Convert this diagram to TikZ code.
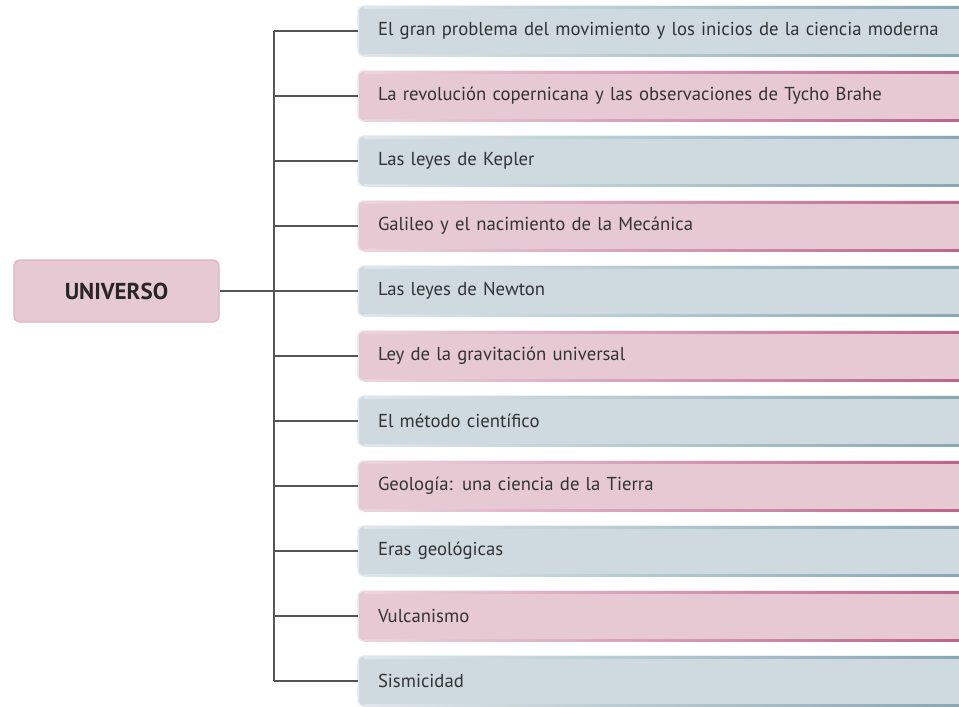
\documentclass[tikz,border=0pt]{standalone}
\usepackage{fontspec}
\setmainfont[WordSpace=0.85]{PT Sans}
\usepackage{xcolor}
\usetikzlibrary{positioning}
\definecolor{bluefill}{HTML}{CFD9E0}
\definecolor{blueedge}{HTML}{7D9FAD}
\definecolor{pinkfill}{HTML}{E6C9D3}
\definecolor{pinkedge}{HTML}{B5557E}
\definecolor{inktext}{HTML}{333333}
\definecolor{linkgray}{HTML}{555555}
% top and bottom rims of a topic box, light on the left, dark on the right
\newcommand{\rims}[2]{%
  \shade[left color=#2!25!white, right color=#2] ([xshift=6pt,yshift=-2pt]#1.north west) rectangle (#1.north east);
  \shade[left color=#2!25!white, right color=#2] ([xshift=6pt]#1.south west) rectangle ([yshift=2pt]#1.south east);}

\begin{document}
\begin{tikzpicture}[
  x=1pt, y=-1pt,
  node distance=15pt,
  topic/.style={rounded corners=6pt, minimum height=50pt, text width=640pt, inner xsep=20pt, outer sep=0pt,
    align=left, font=\fontsize{18.7}{21}\selectfont, text=inktext, line width=1.5pt},
  bluebox/.style={topic, fill=bluefill, draw=bluefill!55!white},
  pinkbox/.style={topic, fill=pinkfill, draw=pinkfill!55!white},
  root/.style={rounded corners=6pt, fill=pinkfill, draw=pinkedge!45, line width=1.2pt,
    minimum width=205pt, minimum height=62pt, font=\bfseries\fontsize{23}{25}\selectfont, text=black!85},
  link/.style={draw=linkgray, line width=1.3pt}
]
\path[use as bounding box, clip] (0,0) rectangle (959,707);
\node[bluebox, anchor=west] (t1) at (358,31) {El gran problema del movimiento y los inicios de la ciencia moderna};
\node[pinkbox, below=of t1] (t2) {La revolución copernicana y las observaciones de Tycho Brahe};
\node[bluebox, below=of t2] (t3) {Las leyes de Kepler};
\node[pinkbox, below=of t3] (t4) {Galileo y el nacimiento de la Mecánica};
\node[bluebox, below=of t4] (t5) {Las leyes de Newton};
\node[pinkbox, below=of t5] (t6) {Ley de la gravitación universal};
\node[bluebox, below=of t6] (t7) {El método científico};
\node[pinkbox, below=of t7] (t8) {Geología: una ciencia de la Tierra};
\node[bluebox, below=of t8] (t9) {Eras geológicas};
\node[pinkbox, below=of t9] (t10) {Vulcanismo};
\node[bluebox, below=of t10] (t11) {Sismicidad};
\rims{t1}{blueedge} \rims{t2}{pinkedge} \rims{t3}{blueedge} \rims{t4}{pinkedge}
\rims{t5}{blueedge} \rims{t6}{pinkedge} \rims{t7}{blueedge} \rims{t8}{pinkedge}
\rims{t9}{blueedge} \rims{t10}{pinkedge} \rims{t11}{blueedge}
\node[root] (univ) at (116.5,0 |- t5) {UNIVERSO};
\coordinate (trunk) at (274,0);
\draw[link] (t1.west -| trunk) -- (t11.west -| trunk);
\draw[link] (univ) -- (t5);
\foreach \k in {1,...,11} \draw[link] (t\k.west -| trunk) -- (t\k.west);
\end{tikzpicture}
\end{document}
